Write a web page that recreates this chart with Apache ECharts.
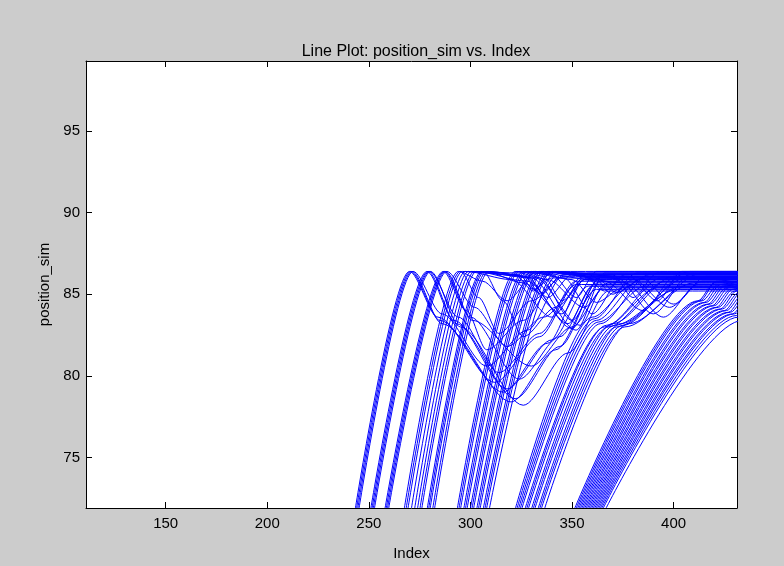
<!DOCTYPE html>
<html lang="en">
  <head>
    <meta charset="UTF-8" />
    <title>Line Plot: position_sim vs. Index</title>
    <style>
      html, body { margin: 0; padding: 0; background: #cccccc; }
      #main { width: 784px; height: 566px; }
    </style>
  </head>
  <body>
    <div id="main"></div>
    <script src="https://cdn.jsdelivr.net/npm/echarts@6.0.0/dist/echarts.min.js"></script>
    <script>
      // axis ranges and ticks
      var xRange = [110.8, 431.2];
      var yRange = [71.9, 99.3];
      var xTicks = [150, 200, 250, 300, 350, 400];
      var yTicks = [75, 80, 85, 90, 95];

      // every line comes in at the bottom edge of the plot
      var entryValue = 71.9;

      // each row: entry index, then index/value pairs along the line
      // three solid strokes on the left (peak, fall into a dip, climb back)
      var strokesA = [
        [243.4, 270.0, 86.4, 284, 83.6, 312, 79.6, 334, 82.4, 352, 85.6, 440, 85.6],
        [244.0, 270.6, 86.4, 285, 83.4, 316, 79.0, 338, 82.0, 356, 85.9, 440, 85.9],
        [244.6, 271.2, 86.4, 286, 83.2, 320, 78.4, 342, 81.6, 362, 85.3, 440, 85.3],
        [245.2, 271.8, 86.4, 286, 83.8, 308, 80.6, 328, 82.8, 346, 86.2, 440, 86.2],
        [251.0, 278.6, 86.4, 292, 83.4, 318, 79.2, 340, 82.2, 358, 85.5, 440, 85.5],
        [251.6, 279.2, 86.4, 293, 83.2, 322, 78.6, 344, 81.8, 364, 86.0, 440, 86.0],
        [252.2, 279.8, 86.4, 294, 83.6, 314, 80.2, 334, 82.6, 352, 85.8, 440, 85.8],
        [252.8, 280.4, 86.4, 295, 83.0, 326, 78.2, 348, 81.4, 368, 85.2, 440, 85.2],
        [258.0, 286.6, 86.4, 298, 84.0, 308, 81.6, 326, 83.4, 344, 86.3, 440, 86.3],
        [258.6, 287.2, 86.4, 300, 83.6, 324, 79.8, 344, 82.4, 362, 85.7, 440, 85.7],
        [259.2, 287.8, 86.4, 301, 83.4, 330, 80.6, 350, 83.0, 366, 85.4, 440, 85.4],
        [259.8, 288.4, 86.4, 302, 84.2, 318, 81.8, 336, 83.6, 356, 86.1, 440, 86.1]
      ];

      // hatched bundles right after them
      var bundlesB = [
        [267.5, 294.0, 86.4, 306, 85.8, 318, 84.6, 332, 86.3, 440, 86.3],
        [268.4, 295.0, 86.4, 304, 84.8, 314, 82.6, 330, 84.6, 346, 86.1, 440, 86.1],
        [269.3, 296.0, 86.4, 322, 86.2, 331, 85.2, 340, 86.4, 440, 86.4],
        [271.0, 297.5, 86.4, 320, 85.9, 340, 83.6, 356, 86.0, 440, 86.0],
        [272.6, 299.0, 86.4, 326, 86.1, 350, 82.9, 364, 85.8, 440, 85.8],
        [274.0, 300.5, 86.4, 325, 86.3, 335, 85.0, 345, 86.2, 440, 86.2],
        [275.2, 302.0, 86.4, 328, 85.8, 348, 83.2, 360, 85.5, 440, 85.5],
        [276.1, 303.0, 86.4, 330, 86.0, 352, 82.8, 366, 86.3, 440, 86.3],
        [278.8, 305.5, 86.4, 324, 86.2, 331, 85.3, 340, 86.0, 440, 86.0],
        [279.5, 306.2, 86.4, 316, 84.6, 326, 82.4, 342, 84.2, 358, 86.0, 440, 86.0],
        [280.2, 307.0, 86.4, 326, 85.7, 345, 83.8, 356, 85.9, 440, 85.9],
        [281.5, 308.0, 86.4, 332, 86.0, 354, 83.1, 366, 85.6, 440, 85.6],
        [282.4, 309.0, 86.4, 328, 86.1, 338, 84.8, 350, 86.2, 440, 86.2]
      ];

      // bundle entering around 300
      var bundleC = [
        [293.6, 322, 86.4, 334, 86.0, 350, 83.4, 364, 86.1, 440, 86.1],
        [294.4, 323, 86.4, 340, 86.2, 352, 84.8, 362, 86.4, 440, 86.4],
        [295.2, 324, 86.4, 338, 85.9, 356, 84.2, 368, 85.7, 440, 85.7],
        [296.8, 326, 86.4, 336, 86.1, 345, 84.6, 358, 86.3, 440, 86.3],
        [297.6, 327, 86.4, 346, 86.0, 360, 83.8, 374, 85.9, 440, 85.9],
        [298.4, 328, 86.4, 366, 85.8, 385, 84.0, 400, 86.0, 440, 86.0],
        [300.0, 330, 86.4, 350, 85.9, 362, 84.5, 375, 85.4, 440, 85.4],
        [300.8, 331, 86.4, 378, 86.1, 392, 84.6, 404, 86.4, 440, 86.4],
        [301.6, 332, 86.4, 372, 86.0, 390, 83.8, 408, 86.2, 440, 86.2],
        [303.2, 334, 86.4, 360, 86.1, 370, 85.0, 380, 85.9, 440, 85.9],
        [304.0, 335, 86.4, 384, 86.0, 400, 84.4, 416, 86.1, 440, 86.1],
        [304.8, 336, 86.4, 376, 85.7, 395, 83.6, 412, 85.6, 440, 85.6],
        [306.4, 338, 86.4, 370, 86.2, 380, 84.8, 392, 86.3, 440, 86.3],
        [307.2, 339, 86.4, 356, 86.1, 366, 85.2, 376, 86.2, 440, 86.2],
        [308.0, 340, 86.4, 380, 85.9, 398, 84.2, 414, 85.8, 440, 85.8],
        [309.4, 342, 86.4, 362, 86.0, 372, 85.1, 385, 86.0, 440, 86.0]
      ];

      // bundle entering around 330, slower climb
      var bundleD = [
        [322.2, 360, 83.6, 380, 85.6, 440, 85.6],
        [323.0, 361, 83.5, 382, 86.3, 440, 86.3],
        [323.8, 362, 83.4, 384, 85.9, 440, 85.9],
        [324.6, 363, 83.3, 386, 85.5, 440, 85.5],
        [325.4, 364, 83.2, 388, 86.2, 440, 86.2],
        [327.0, 366, 83.0, 392, 85.4, 440, 85.4],
        [327.8, 367, 83.1, 394, 86.0, 440, 86.0],
        [328.6, 368, 83.0, 396, 85.8, 440, 85.8],
        [330.2, 370, 83.2, 400, 86.1, 440, 86.1],
        [331.0, 371, 83.1, 402, 85.3, 440, 85.3],
        [331.8, 372, 83.0, 404, 85.5, 440, 85.5],
        [333.4, 374, 83.2, 406, 86.0, 440, 86.0],
        [334.2, 375, 83.1, 408, 86.4, 440, 86.4],
        [335.0, 376, 83.0, 410, 85.7, 440, 85.7],
        [336.6, 378, 83.2, 414, 86.3, 440, 86.3]
      ];

      // last bundle, entering around 360
      var bundleE = [
        [351.4, 412, 84.6, 420, 85.7, 440, 85.9],
        [352.1, 413, 84.6, 421, 85.8, 440, 86.2],
        [352.8, 414, 84.6, 422, 85.6, 440, 86.1],
        [353.5, 415, 84.5, 423, 85.6, 440, 85.9],
        [354.2, 416, 84.5, 424, 85.5, 440, 85.8],
        [354.9, 417, 84.4, 425, 85.5, 440, 86.0],
        [355.6, 418, 84.4, 426, 85.4, 440, 86.0],
        [356.3, 419, 84.3, 427, 85.4, 440, 85.8],
        [357.0, 420, 84.3, 428, 85.3, 440, 85.7],
        [357.7, 421, 84.2, 429, 85.3, 440, 85.9],
        [358.4, 422, 84.2, 430, 85.2, 440, 85.9],
        [359.1, 423, 84.1, 431, 85.2, 440, 85.6],
        [359.8, 424, 84.1, 432, 85.1, 440, 85.6],
        [360.5, 425, 84.0, 433, 85.1, 440, 85.5],
        [361.2, 426, 84.0, 434, 85.0, 440, 85.4],
        [361.9, 427, 83.9, 435, 85.0, 440, 85.3],
        [362.6, 428, 83.9, 436, 84.9, 440, 85.3],
        [363.3, 429, 83.8, 437, 84.9, 442, 85.2],
        [364.0, 430, 83.8, 438, 84.8, 445, 85.2],
        [364.7, 431, 83.7, 439, 84.7, 447, 85.2],
        [365.4, 432, 83.6, 440, 84.6, 450, 85.2],
        [366.8, 434, 83.4, 442, 84.4, 450, 85.0]
      ];

      function toPoints(row) {
        var pts = [[row[0], entryValue]];
        for (var i = 1; i < row.length; i += 2) {
          pts.push([row[i], row[i + 1]]);
        }
        return pts;
      }

      var rows = strokesA.concat(bundlesB, bundleC, bundleD, bundleE);

      var series = rows.map(function (row) {
        return {
          type: "line",
          xAxisIndex: 0,
          yAxisIndex: 0,
          data: toPoints(row),
          showSymbol: false,
          smooth: 0.3,
          smoothMonotone: "x",
          clip: true,
          silent: true,
          lineStyle: { color: "#0000ff", width: 1 },
        };
      });

      var font = "Liberation Sans, Arial, sans-serif";
      var labelStyle = { color: "#000", fontSize: 15, fontFamily: font };

      function xAxisCfg(pos, showLabel) {
        return {
          type: "value",
          position: pos,
          min: xRange[0],
          max: xRange[1],
          name: showLabel ? "Index" : "",
          nameLocation: "middle",
          nameGap: 38,
          nameTextStyle: labelStyle,
          splitLine: { show: false },
          axisLine: { show: true, onZero: false, lineStyle: { color: "#000", width: 1 } },
          axisTick: { show: true, inside: true, length: 6, customValues: xTicks, lineStyle: { color: "#000" } },
          axisLabel: Object.assign({ show: showLabel, margin: 8, customValues: xTicks }, labelStyle),
        };
      }

      function yAxisCfg(pos, showLabel) {
        return {
          type: "value",
          position: pos,
          min: yRange[0],
          max: yRange[1],
          name: showLabel ? "position_sim" : "",
          nameLocation: "middle",
          nameGap: 34,
          nameRotate: 90,
          nameTextStyle: labelStyle,
          splitLine: { show: false },
          axisLine: { show: true, onZero: false, lineStyle: { color: "#000", width: 1 } },
          axisTick: { show: true, inside: true, length: 6, customValues: yTicks, lineStyle: { color: "#000" } },
          axisLabel: Object.assign({ show: showLabel, margin: 6, customValues: yTicks }, labelStyle),
        };
      }

      var myChart = echarts.init(document.getElementById("main"));
      var option = {
        animation: false,
        backgroundColor: "#cccccc",
        title: {
          text: "Line Plot: position_sim vs. Index",
          left: 411,
          top: 37,
          textAlign: "center",
          textStyle: { color: "#000", fontSize: 16, fontWeight: "normal", fontFamily: font, lineHeight: 20 },
        },
        grid: {
          left: 86,
          right: 47,
          top: 61,
          bottom: 56,
          show: true,
          backgroundColor: "#ffffff",
          borderWidth: 0,
        },
        xAxis: [xAxisCfg("bottom", true), xAxisCfg("top", false)],
        yAxis: [yAxisCfg("left", true), yAxisCfg("right", false)],
        series: series,
      };
      myChart.setOption(option);
    </script>
  </body>
</html>
